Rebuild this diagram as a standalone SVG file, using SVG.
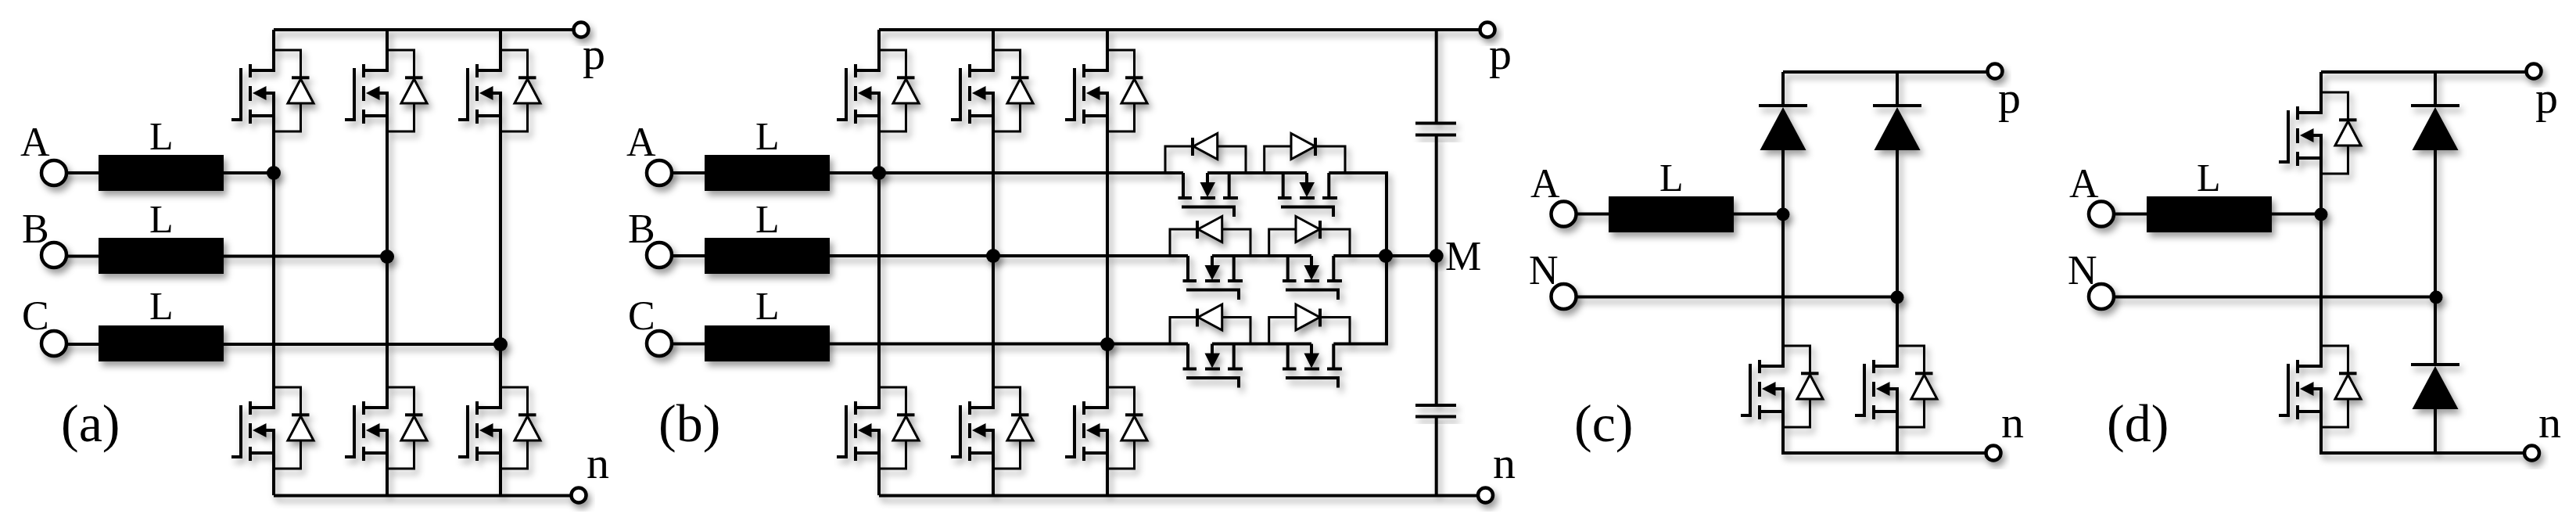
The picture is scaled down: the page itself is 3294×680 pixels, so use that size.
<svg xmlns="http://www.w3.org/2000/svg" width="3294" height="680" viewBox="0 0 3294 680">
<style>
.w{fill:none;stroke:#000;stroke-width:4}
.t{fill:none;stroke:#000;stroke-width:3}
.b{fill:#000;stroke:none}
.tri{fill:#fff;stroke:#000;stroke-width:3}
.term{fill:#fff;stroke:#000;stroke-width:4.5}
.s{filter:url(#sh)}
text{font-family:"Liberation Serif","Times New Roman",serif;font-size:52px;fill:#000}
.ind{font-size:50px}
.pn{font-size:58px}
.cap{font-size:68px}
</style>
<defs>
<filter id="sh" x="-60%" y="-60%" width="220%" height="220%">
<feDropShadow dx="4" dy="6" stdDeviation="4" flood-color="#000" flood-opacity="0.38"/>
</filter>
<g id="mos">
<path class="t" d="M0 0H34.5V104H0"/>
<path class="t" d="M34.5 0V36M34.5 68V104"/>
<path class="w" d="M23 35.3H45.500"/>
<path class="tri" d="M34.500 37L18 68H51Z"/>
<path class="w" d="M0 0V26H-30M-30 18V35M-30 46V65M-30 76V94M-30 84H0V104M0 104V55H-10M-54 89H-42V23"/>
<path class="b" d="M-27 55L-9.500 46V64Z"/>
</g>
<g id="bi">
<path class="w" d="M31 0H158M-6.500 32H11M22 32H41M51 32H70M121 32H138.500M149 32H168M178 32H197"/>
<path class="w" d="M0 0V32M58.700 0V32M127.700 0V32M186.300 0V32M31 0V14M158 0V14"/>
<path class="w" d="M-2 43.500H65V56M125 43.500H192V56"/>
<path class="b" d="M31 31L21.500 12H41ZM158 31L148.500 12H168Z"/>
<path class="t" d="M-23 0V-34H12M43.700 -34H80V0M103.700 0V-34H138M169 -34H207V0"/>
<path class="tri" d="M13 -34L43.700 -50.500V-17.500Z"/>
<path class="tri" d="M138 -50.500L168.500 -34L138 -17.500Z"/>
<path class="w" d="M12 -45V-22M169 -45V-22"/>
</g>
<g id="fd">
<path class="w" d="M-31 0H31"/>
<path class="b" d="M0 2L-29.500 57H29.500Z"/>
</g>
</defs>
<g id="connectors" class="s">
<path class="w" d="M350 38H743M350 633.500H740M350 38V64M495 38V64M640 38V64M350 168V495M495 168V495M640 168V495M350 599V633M495 599V633M640 599V633M69 221H350M69 327.500H495M69 440H640"/>
<path class="w" d="M1124 38H1902M1124 633.500H1899M1124 38V64M1270 38V64M1416 38V64M1124 168V495M1270 168V495M1416 168V495M1124 599V633M1270 599V633M1416 599V633M1836.700 38V157.400M1836.700 172.600V518M1836.700 532.500V633M843 221H1513M843 327H1519M843 439.500H1519M1699.300 221H1773V439.500H1705.300M1705.300 327H1836.700"/>
<path class="w" d="M2280 92H2551M2280 92V135M2426 92V135M2280 192V442M2426 192V442M2280 546V579H2549M2426 546V579M1999.500 273.600H2280M1999.500 379.500H2426"/>
<path class="w" d="M2968 92H3240M2968 92V118M2968 222V442M2968 546V579H3237M3114 92V135M3114 192V466M3114 522V579M2687 273.600H2968M2687 379.500H3114"/>
</g>
<g id="panel-a">
<g id="a-A"><circle class="term s" cx="69" cy="221" r="16"/><text x="26" y="199">A</text></g>
<g id="a-B"><circle class="term s" cx="69" cy="326" r="16"/><text x="28" y="310">B</text></g>
<g id="a-C"><circle class="term s" cx="69" cy="439" r="16"/><text x="28" y="421">C</text></g>
<g id="a-L1"><rect class="b s" x="126" y="198" width="160" height="46"/><text class="ind" x="191" y="191">L</text></g>
<g id="a-L2"><rect class="b s" x="126" y="304" width="160" height="46"/><text class="ind" x="191" y="297">L</text></g>
<g id="a-L3"><rect class="b s" x="126" y="416" width="160" height="46"/><text class="ind" x="191" y="408">L</text></g>
<g id="a-S1"><use class="s" href="#mos" x="350" y="64"/></g>
<g id="a-S2"><use class="s" href="#mos" x="495" y="64"/></g>
<g id="a-S3"><use class="s" href="#mos" x="640" y="64"/></g>
<g id="a-S4"><use class="s" href="#mos" x="350" y="495"/></g>
<g id="a-S5"><use class="s" href="#mos" x="495" y="495"/></g>
<g id="a-S6"><use class="s" href="#mos" x="640" y="495"/></g>
<g id="a-dots" class="s"><circle cx="350" cy="221" r="9"/><circle cx="495" cy="328" r="9"/><circle cx="640" cy="440" r="9"/></g>
<g id="a-p"><circle class="term s" cx="743" cy="38" r="9.500"/><text class="pn" x="745" y="88">p</text></g>
<g id="a-n"><circle class="term s" cx="740" cy="633" r="9.500"/><text class="pn" x="750" y="611">n</text></g>
<text class="cap" x="78" y="564">(a)</text>
</g>
<g id="panel-b">
<g id="b-A"><circle class="term s" cx="843" cy="221" r="16"/><text x="801" y="199">A</text></g>
<g id="b-B"><circle class="term s" cx="843" cy="326" r="16"/><text x="803" y="310">B</text></g>
<g id="b-C"><circle class="term s" cx="843" cy="439" r="16"/><text x="803" y="421">C</text></g>
<g id="b-L1"><rect class="b s" x="901" y="198" width="160" height="46"/><text class="ind" x="966" y="191">L</text></g>
<g id="b-L2"><rect class="b s" x="901" y="304" width="160" height="46"/><text class="ind" x="966" y="297">L</text></g>
<g id="b-L3"><rect class="b s" x="901" y="416" width="160" height="46"/><text class="ind" x="966" y="408">L</text></g>
<g id="b-S1"><use class="s" href="#mos" x="1124" y="64"/></g>
<g id="b-S2"><use class="s" href="#mos" x="1270" y="64"/></g>
<g id="b-S3"><use class="s" href="#mos" x="1416" y="64"/></g>
<g id="b-S4"><use class="s" href="#mos" x="1124" y="495"/></g>
<g id="b-S5"><use class="s" href="#mos" x="1270" y="495"/></g>
<g id="b-S6"><use class="s" href="#mos" x="1416" y="495"/></g>
<g id="b-T1"><use class="s" href="#bi" x="1513" y="221"/></g>
<g id="b-T2"><use class="s" href="#bi" x="1519" y="327"/></g>
<g id="b-T3"><use class="s" href="#bi" x="1519" y="439.500"/></g>
<g id="b-C1"><path class="w s" d="M1810 157.400H1862M1810 172.600H1862"/></g>
<g id="b-C2"><path class="w s" d="M1810 518H1862M1810 532.500H1862"/></g>
<g id="b-dots" class="s"><circle cx="1124" cy="221" r="9"/><circle cx="1270" cy="327" r="9"/><circle cx="1416" cy="440" r="9"/><circle cx="1772" cy="327" r="9"/></g>
<g id="b-M"><circle class="s" cx="1836.700" cy="327" r="9"/><text x="1848" y="345">M</text></g>
<g id="b-p"><circle class="term s" cx="1902" cy="38" r="9.500"/><text class="pn" x="1904" y="88">p</text></g>
<g id="b-n"><circle class="term s" cx="1899.500" cy="633" r="9.500"/><text class="pn" x="1909" y="611">n</text></g>
<text class="cap" x="842" y="564">(b)</text>
</g>
<g id="panel-c">
<g id="c-A"><circle class="term s" cx="1999.500" cy="273.600" r="16"/><text x="1957" y="252">A</text></g>
<g id="c-N"><circle class="term s" cx="1999.500" cy="379" r="16"/><text x="1955" y="363">N</text></g>
<g id="c-L"><rect class="b s" x="2057" y="251" width="160" height="46"/><text class="ind" x="2122" y="244">L</text></g>
<g id="c-D1"><use class="s" href="#fd" x="2280" y="135"/></g>
<g id="c-D2"><use class="s" href="#fd" x="2426" y="135"/></g>
<g id="c-S1"><use class="s" href="#mos" x="2280" y="442"/></g>
<g id="c-S2"><use class="s" href="#mos" x="2426" y="442"/></g>
<g id="c-dots" class="s"><circle cx="2280" cy="274" r="8.500"/><circle cx="2426" cy="380" r="8.500"/></g>
<g id="c-p"><circle class="term s" cx="2551" cy="91" r="9.500"/><text class="pn" x="2555" y="144">p</text></g>
<g id="c-n"><circle class="term s" cx="2549" cy="579" r="9.500"/><text class="pn" x="2559" y="559">n</text></g>
<text class="cap" x="2013" y="564">(c)</text>
</g>
<g id="panel-d">
<g id="d-A"><circle class="term s" cx="2687" cy="273.600" r="16"/><text x="2646" y="252">A</text></g>
<g id="d-N"><circle class="term s" cx="2687" cy="379" r="16"/><text x="2644" y="363">N</text></g>
<g id="d-L"><rect class="b s" x="2745" y="251" width="160" height="46"/><text class="ind" x="2809" y="244">L</text></g>
<g id="d-S1"><use class="s" href="#mos" x="2968" y="118"/></g>
<g id="d-S2"><use class="s" href="#mos" x="2968" y="442"/></g>
<g id="d-D1"><use class="s" href="#fd" x="3114" y="135"/></g>
<g id="d-D2"><use class="s" href="#fd" x="3114" y="466"/></g>
<g id="d-dots" class="s"><circle cx="2968" cy="274" r="8.500"/><circle cx="3115" cy="380" r="8.500"/></g>
<g id="d-p"><circle class="term s" cx="3240" cy="91" r="9.500"/><text class="pn" x="3242" y="144">p</text></g>
<g id="d-n"><circle class="term s" cx="3237.500" cy="579" r="9.500"/><text class="pn" x="3246" y="559">n</text></g>
<text class="cap" x="2694" y="564">(d)</text>
</g>
</svg>
